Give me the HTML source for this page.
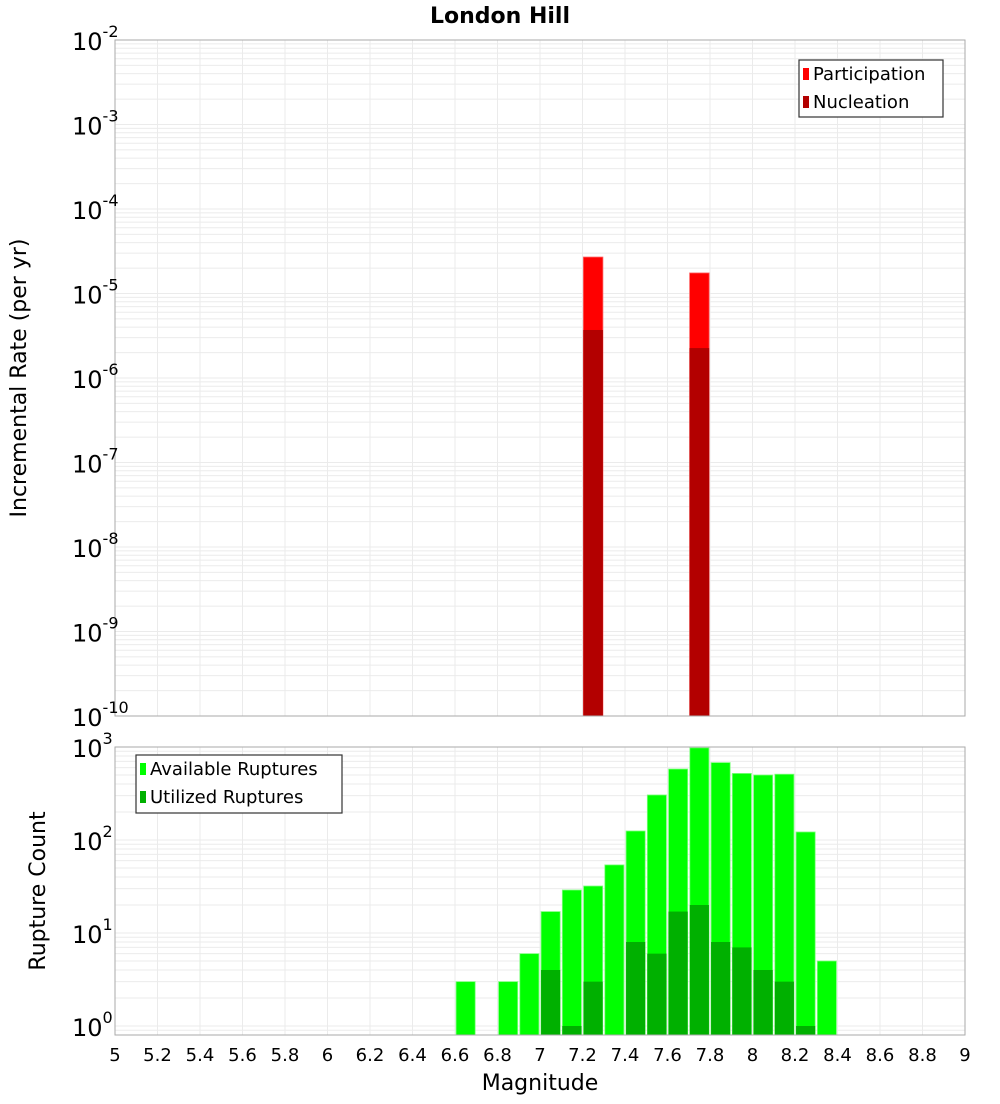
<!DOCTYPE html>
<html><head><meta charset="utf-8"><style>
body{margin:0;background:#fff;font-family:"DejaVu Sans","Liberation Sans",sans-serif}
svg text{font-family:"DejaVu Sans","Liberation Sans",sans-serif}
</style></head><body>
<svg id="c" width="1000" height="1100" xmlns="http://www.w3.org/2000/svg">
<text x="500" y="23" text-anchor="middle" font-size="22" font-weight="bold">London Hill</text>
<g id="topg"></g>
<g id="botg"></g>
<text transform="translate(26,378) rotate(-90)" text-anchor="middle" font-size="22">Incremental Rate (per yr)</text>
<text transform="translate(45,891) rotate(-90)" text-anchor="middle" font-size="22">Rupture Count</text>
<text x="540" y="1090" text-anchor="middle" font-size="22">Magnitude</text>
</svg>
<script>
const rateMags=[7.25,7.75];
const participation=[2.7e-5,1.75e-5];
const nucleation=[3.7e-6,2.26e-6];
const countMags=[6.65,6.85,6.95,7.05,7.15,7.25,7.35,7.45,7.55,7.65,7.75,7.85,7.95,8.05,8.15,8.25,8.35];
const available=[3,3,6,17,29,32,54,125,305,580,980,680,520,500,510,122,5];
const utilized=[0,0,0,4,1,3,0,8,6,17,20,8,7,4,3,1,0];
const xTicks=[5,5.2,5.4,5.6,5.8,6,6.2,6.4,6.6,6.8,7,7.2,7.4,7.6,7.8,8,8.2,8.4,8.6,8.8,9];
const xTickLabels=["5","5.2","5.4","5.6","5.8","6","6.2","6.4","6.6","6.8","7","7.2","7.4","7.6","7.8","8","8.2","8.4","8.6","8.8","9"];
const rateExps=[-10,-9,-8,-7,-6,-5,-4,-3,-2];
const countExps=[0,1,2,3];

const NS="http://www.w3.org/2000/svg";
function mk(p,t,a){const e=document.createElementNS(NS,t);for(const k in a)e.setAttribute(k,a[k]);p.appendChild(e);return e;}
const L=115,R=965;
const X=m=>L+(m-5)/4*(R-L);
const topG=document.getElementById('topg'),botG=document.getElementById('botg');
const TT=40,TB=716;
const Yt=v=>TB-(Math.log10(v)+10)*(TB-TT)/8;
const BT=747,BB=1035;
const Yb=v=>1026-Math.log10(v)*93;

function grid(g,yf,e0,e1,yTop,yBot){
  for(let e=e0;e<=e1;e++)for(let k=1;k<10;k++){
    const y=yf(k*Math.pow(10,e));if(y<yTop-0.5||y>yBot+0.5)continue;
    const l=mk(g,'line',{x1:L,x2:R,y1:y,y2:y,stroke:'#ebebeb','stroke-width':1});
    
    
  }
  xTicks.forEach(t=>{const l=mk(g,'line',{x1:X(t),x2:X(t),y1:yTop,y2:yBot,stroke:'#ebebeb','stroke-width':1});
    
    });
}
grid(topG,Yt,-10,-2,TT,TB);
grid(botG,Yb,-1,3,BT,BB);

const bw=0.092*(R-L)/4;
rateMags.forEach((m,i)=>{
  const r=mk(topG,'rect',{x:X(m)-bw/2,y:Yt(participation[i]),width:bw,height:TB-Yt(participation[i]),fill:'#ff0000',stroke:'#ff6060','stroke-width':0.8});
  
  
  const n=mk(topG,'rect',{x:X(m)-bw/2,y:Yt(nucleation[i]),width:bw,height:TB-Yt(nucleation[i]),fill:'#b30000'});
  
  
});
const bw2=0.09*(R-L)/4;
countMags.forEach((m,i)=>{
  if(available[i]>0){const y=Yb(available[i]);
    const r=mk(botG,'rect',{x:X(m)-bw2/2,y:y,width:bw2,height:BB-y,fill:'#00ff00',stroke:'#80ff80','stroke-width':0.8});
    
    }
  if(utilized[i]>0){const y=Yb(utilized[i]);
    const r=mk(botG,'rect',{x:X(m)-bw2/2,y:y,width:bw2,height:BB-y,fill:'#00b000'});
    
    }
});
[[TT,TB,topG],[BT,BB,botG]].forEach(([a,b,g])=>{const r=mk(g,'rect',{x:L,y:a,width:R-L,height:b-a,fill:'none',stroke:'#aaaaaa','stroke-width':1});
  
  });

function ylab(g,y,e){const t=mk(g,'text',{x:72,y:y+10,'font-size':24});
  t.textContent='10';const s=mk(t,'tspan',{dy:-13,'font-size':16});s.textContent=String(e);
  
  }
rateExps.forEach(e=>ylab(topG,Yt(Math.pow(10,e)),e));
countExps.forEach(e=>ylab(botG,Yb(Math.pow(10,e)),e));
xTicks.forEach((t,i)=>{const tx=mk(botG,'text',{x:X(t),y:1061,'text-anchor':'middle','font-size':18});
  tx.textContent=xTickLabels[i];
  
  });

function legend(g,x,y,w,h,items){
  const r=mk(g,'rect',{x:x,y:y,width:w,height:h,fill:'#fff',stroke:'#333','stroke-width':1.2});
  
  
  items.forEach((it,i)=>{const cy=y+14+i*28;
    const s=mk(g,'rect',{x:x+4,y:cy-6,width:6,height:12,fill:it[1]});
    
    
    const t=mk(g,'text',{x:x+14,y:cy+6,'font-size':18});t.textContent=it[0];
    
    });
}
legend(topG,799,60,144,57,[['Participation','#ff0000'],['Nucleation','#b30000']]);
legend(botG,136,755,206,58,[['Available Ruptures','#00ff00'],['Utilized Ruptures','#00b000']]);
</script>
</body></html>
